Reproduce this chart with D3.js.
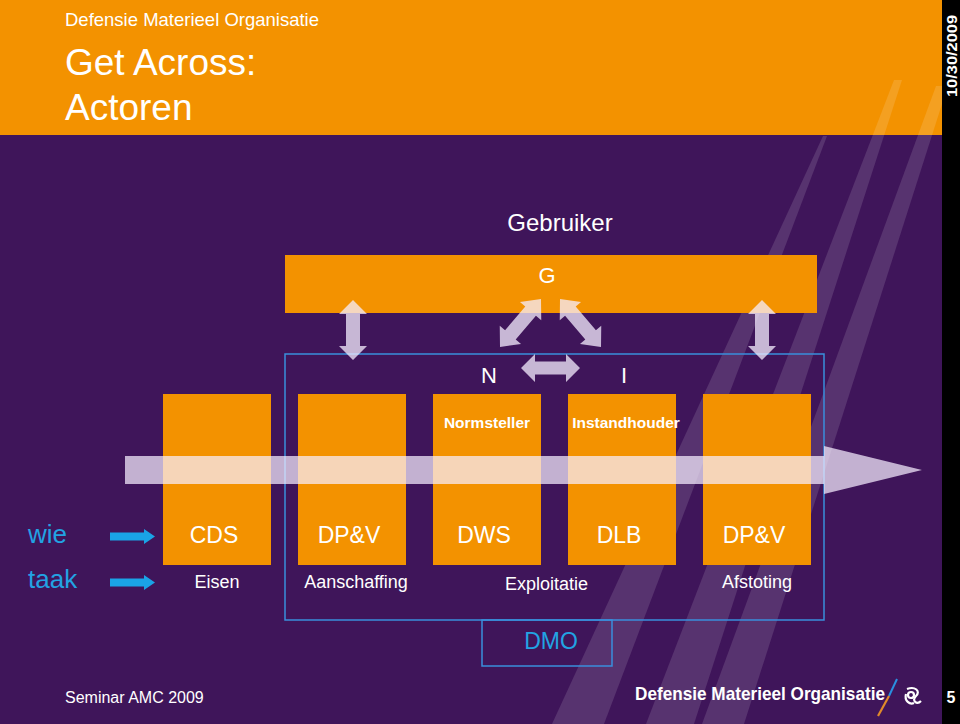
<!DOCTYPE html>
<html>
<head>
<meta charset="utf-8">
<script src="https://cdn.jsdelivr.net/npm/d3@7"></script>
<style>
  html, body { margin: 0; padding: 0; background: #3f155a; }
  svg { display: block; }
  text { font-family: "Liberation Sans", Arial, sans-serif; }
</style>
</head>
<body>
<svg id="slide" width="960" height="724"></svg>
<script>
// ---------- data ----------
const headerOrg = "Defensie Materieel Organisatie";
const titleLines = ["Get Across:", "Actoren"];
const dateLabel = "10/30/2009";
const userLabel = "Gebruiker";
const userBarLabel = "G";
const actorLetters = ["N", "I"];          // above boxes 3 and 4
const actorIndex = [2, 3];
const orgLabels = ["CDS", "DP&V", "DWS", "DLB", "DP&V"];
const roleLabels = ["", "", "Normsteller", "Instandhouder", ""];
const taskLabels = ["Eisen", "Aanschaffing", "Exploitatie", "Afstoting"];
const taskSpans = [[0, 0], [1, 1], [2, 3], [4, 4]];
const rowLabels = ["wie", "taak"];
const dmoLabel = "DMO";
const footerLeft = "Seminar AMC 2009";
const footerLogo = "Defensie Materieel Organisatie";
const pageNumber = "5";

// ---------- colours ----------
const ORANGE = "#f39200", PURPLE = "#3f155a", BLUE = "#3a8fdc", CYAN = "#22a3e3";
const GHOST = "#f6eeff";

const svg = d3.select("#slide");

// background
svg.append("rect").attr("width", 960).attr("height", 724).attr("fill", PURPLE);
// header band
svg.append("rect").attr("x", 0).attr("y", 0).attr("width", 942).attr("height", 135).attr("fill", ORANGE);

// decorative diagonal stripes
const stripes = [
  [[823,136],[827,136],[604,724],[552,724]],
  [[894,80],[902,80],[694,724],[646,724]],
  [[936,86],[942,86],[942,104],[744,724],[702,724]]
];
svg.append("g").selectAll("path").data(stripes).join("path")
  .attr("d", d => d3.line()(d) + "Z")
  .attr("fill", "#ffffff").attr("fill-opacity", 0.13);

// right black strip
svg.append("rect").attr("x", 942).attr("y", 0).attr("width", 18).attr("height", 724).attr("fill", "#000");

// header texts
svg.append("text").attr("x", 65).attr("y", 26).attr("font-size", 18.5).attr("fill", "#fff").text(headerOrg);
svg.append("g").selectAll("text").data(titleLines).join("text")
  .attr("x", 65).attr("y", (d, i) => 75 + i * 45)
  .attr("font-size", 37).attr("fill", "#fff").text(d => d);

svg.append("text")
  .attr("transform", "translate(957,56) rotate(-90)")
  .attr("text-anchor", "middle").attr("font-size", 15).attr("font-weight", "bold")
  .attr("textLength", 82).attr("lengthAdjust", "spacingAndGlyphs")
  .attr("fill", "#fff").text(dateLabel);

// ---------- scales ----------
const idx = d3.range(orgLabels.length);
const xBox = d3.scaleBand().domain(idx).range([163, 811]).paddingInner(0.2).paddingOuter(0);
const cx = i => xBox(i) + xBox.bandwidth() / 2;

const boxTop = 394, boxBottom = 565;

// Gebruiker
svg.append("text").attr("x", 560).attr("y", 231).attr("text-anchor", "middle")
  .attr("font-size", 24).attr("fill", "#fff").text(userLabel);
svg.append("rect").attr("x", 285).attr("y", 255).attr("width", 532).attr("height", 58).attr("fill", ORANGE);
svg.append("text").attr("x", 547).attr("y", 283).attr("text-anchor", "middle")
  .attr("font-size", 22).attr("fill", "#fff").text(userBarLabel);

// DMO frame
svg.append("rect").attr("x", 285).attr("y", 354).attr("width", 539).attr("height", 266)
  .attr("fill", "none").attr("stroke", BLUE).attr("stroke-width", 1.5);
svg.append("rect").attr("x", 482).attr("y", 620).attr("width", 130).attr("height", 46)
  .attr("fill", "none").attr("stroke", BLUE).attr("stroke-width", 1.5);
svg.append("text").attr("x", 551).attr("y", 649).attr("text-anchor", "middle")
  .attr("font-size", 23).attr("fill", CYAN).text(dmoLabel);

// org boxes
svg.append("g").selectAll("rect").data(idx).join("rect")
  .attr("x", i => xBox(i)).attr("y", boxTop)
  .attr("width", xBox.bandwidth()).attr("height", boxBottom - boxTop)
  .attr("fill", ORANGE);

// double arrow helper
function dblArrow(x1, y1, x2, y2, shaft, head, hl) {
  const len = Math.hypot(x2 - x1, y2 - y1);
  const a = Math.atan2(y2 - y1, x2 - x1) * 180 / Math.PI;
  const s = shaft / 2, h = head / 2;
  const pts = [[0,0],[hl,-h],[hl,-s],[len-hl,-s],[len-hl,-h],[len,0],[len-hl,h],[len-hl,s],[hl,s],[hl,h]];
  svg.append("path").attr("d", d3.line()(pts) + "Z")
    .attr("transform", `translate(${x1},${y1}) rotate(${a})`)
    .attr("fill", GHOST).attr("fill-opacity", 0.75);
}

// vertical arrows between G and boxes 2 & 5
dblArrow(cx(1) + 1, 300, cx(1) + 1, 360, 14, 28, 14);
dblArrow(cx(4) + 5, 300, cx(4) + 5, 360, 14, 28, 14);
// triangle arrows
dblArrow(500, 347, 541, 299, 14, 28, 16);
dblArrow(560, 299, 601, 347, 14, 28, 16);
dblArrow(521, 368, 580, 368, 13, 28, 14);

// N / I
svg.append("g").selectAll("text").data(actorLetters).join("text")
  .attr("x", (d, i) => cx(actorIndex[i]) + 2).attr("y", 383)
  .attr("text-anchor", "middle").attr("font-size", 22).attr("fill", "#fff").text(d => d);

// role labels
svg.append("g").selectAll("text").data(roleLabels).join("text")
  .attr("x", (d, i) => cx(i) + (i === 3 ? 4 : 0)).attr("y", 428)
  .attr("text-anchor", "middle").attr("font-size", 15.5).attr("font-weight", "bold")
  .attr("fill", "#fff").text(d => d);

// big process arrow
const shaftY1 = 456, shaftY2 = 484;
svg.append("path")
  .attr("d", d3.line()([[125, shaftY1], [824, shaftY1], [824, 446], [922, 470], [824, 494], [824, shaftY2], [125, shaftY2]]) + "Z")
  .attr("fill", GHOST).attr("fill-opacity", 0.72);

// org labels
svg.append("g").selectAll("text").data(orgLabels).join("text")
  .attr("x", (d, i) => cx(i) - 3).attr("y", 543)
  .attr("text-anchor", "middle").attr("font-size", 23).attr("fill", "#fff").text(d => d);

// task labels
svg.append("g").selectAll("text").data(taskLabels).join("text")
  .attr("x", (d, i) => (cx(taskSpans[i][0]) + cx(taskSpans[i][1])) / 2 + (i === 2 ? -8 : 0) + (i === 1 ? 4 : 0))
  .attr("y", (d, i) => i === 2 ? 590 : 588)
  .attr("text-anchor", "middle").attr("font-size", 18).attr("fill", "#fff").text(d => d);

// row labels + blue arrows
const rowY = [543, 588];
const arrowY = [536.5, 582.5];
svg.append("g").selectAll("text").data(rowLabels).join("text")
  .attr("x", 28).attr("y", (d, i) => rowY[i])
  .attr("font-size", 26).attr("fill", CYAN).text(d => d);
arrowY.forEach(y => {
  svg.append("path")
    .attr("d", d3.line()([[110, y - 4], [144, y - 4], [144, y - 7.5], [155, y], [144, y + 7.5], [144, y + 4], [110, y + 4]]) + "Z")
    .attr("fill", "#1aa3e6");
});

// footer
svg.append("text").attr("x", 65).attr("y", 703).attr("font-size", 16).attr("fill", "#fff").text(footerLeft);
svg.append("text").attr("x", 635).attr("y", 700).attr("font-size", 19).attr("font-weight", "bold")
  .attr("textLength", 250).attr("lengthAdjust", "spacingAndGlyphs")
  .attr("fill", "#fff").text(footerLogo);
// slash mark
svg.append("line").attr("x1", 897).attr("y1", 679).attr("x2", 889).attr("y2", 696)
  .attr("stroke", "#2a8fe0").attr("stroke-width", 2);
svg.append("line").attr("x1", 889).attr("y1", 696).attr("x2", 878).attr("y2", 716)
  .attr("stroke", "#e08a2a").attr("stroke-width", 2.2);
// emblem
const em = svg.append("g").attr("transform", "translate(913,696)")
  .attr("fill", "none").attr("stroke", "#fff").attr("stroke-width", 2.2);
em.append("path").attr("d", "M-6,-7 C2,-10 8,-5 3,0 C-2,5 4,9 8,5");
em.append("path").attr("d", "M-7,-2 C-9,5 -3,9 1,7");
em.append("circle").attr("r", 3).attr("cx", -2).attr("cy", -1);
svg.append("text").attr("x", 951).attr("y", 703).attr("text-anchor", "middle")
  .attr("font-size", 16).attr("font-weight", "bold").attr("fill", "#fff").text(pageNumber);
</script>
</body>
</html>
